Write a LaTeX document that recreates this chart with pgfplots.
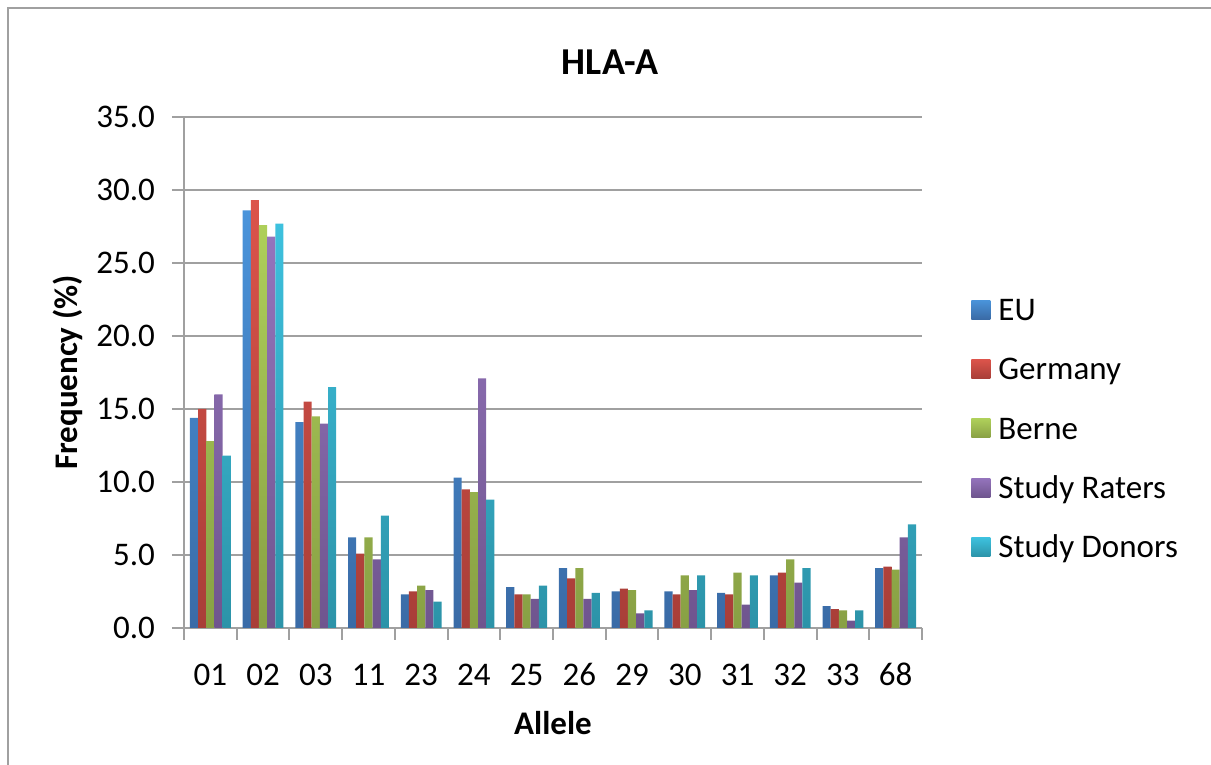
\documentclass[border=0pt]{standalone}
\usepackage{pgfplots}
\pgfplotsset{compat=1.18}
\usepackage{fontspec}
\setmainfont{Carlito}
\definecolor{euT}{HTML}{4A94DB}\definecolor{euB}{HTML}{3A6BA6}
\definecolor{deT}{HTML}{DC544B}\definecolor{deB}{HTML}{A83E38}
\definecolor{beT}{HTML}{AECF5A}\definecolor{beB}{HTML}{88A044}
\definecolor{raT}{HTML}{9474BC}\definecolor{raB}{HTML}{6F558E}
\definecolor{doT}{HTML}{3DC1DE}\definecolor{doB}{HTML}{2C93A8}
\definecolor{gridg}{HTML}{A0A0A0}
\pgfplotstableread{
x EU Germany Berne Raters Donors
0 14.4 15.0 12.8 16.0 11.8
1 28.6 29.3 27.6 26.8 27.7
2 14.1 15.5 14.5 14.0 16.5
3 6.2 5.1 6.2 4.7 7.7
4 2.3 2.5 2.9 2.6 1.8
5 10.3 9.5 9.3 17.1 8.8
6 2.8 2.3 2.3 2.0 2.9
7 4.1 3.4 4.1 2.0 2.4
8 2.5 2.7 2.6 1.0 1.2
9 2.5 2.3 3.6 2.6 3.6
10 2.4 2.3 3.8 1.6 3.6
11 3.6 3.8 4.7 3.1 4.1
12 1.5 1.3 1.2 0.5 1.2
13 4.1 4.2 4.0 6.2 7.1
}\datatable
\pgfplotsset{
  sq/.style={legend image code/.code={\path[##1,draw=none] (0pt,-3.4pt) rectangle (9.5pt,6.1pt);\path (0pt,0pt) -- (11.5pt,0pt);}},
}
\begin{document}
\begin{tikzpicture}
\useasboundingbox (0,0) rectangle (605.5pt,382.5pt);
\draw[gridg,line width=1pt] (4pt,0) -- (4pt,378.5pt) -- (605.5pt,378.5pt);
\node[font=\fontsize{19}{22}\selectfont\bfseries] at (305pt,351.5pt) {HLA-A};
\begin{axis}[
  at={(92pt,68.5pt)}, anchor=south west, scale only axis,
  width=369pt, height=255.5pt,
  xmin=-0.5, xmax=13.5, ymin=0, ymax=35,
  ybar=0pt, bar width=0.155,
  axis x line*=bottom, axis y line*=left,
  axis line style={gridg,line width=1pt,-},
  ytick={0,5,...,35},
  ymajorgrids, grid style={gridg,line width=1pt},
  yticklabel style={xshift=-5pt,/pgf/number format/.cd,fixed,fixed zerofill,precision=1,assume math mode=true},
  xticklabel style={yshift=-7pt, text height=12pt, text depth=0pt},
  ytick style={gridg,line width=1pt},
  tick align=outside, major tick length=6pt,
  xtick={0,...,13},
  xticklabels={01,02,03,11,23,24,25,26,29,30,31,32,33,68},
  xtick style={draw=none},
  extra x ticks={-0.5,0.5,...,13.5},
  extra x tick labels={},
  extra x tick style={xtick style={draw=gridg,line width=1pt}, xmajorgrids=false},
  tick label style={font=\fontsize{16.5}{19}\selectfont},
  xlabel={\bfseries Allele}, ylabel={\bfseries Frequency (\%)},
  xlabel shift=-5.5pt, ylabel shift=0pt,
  label style={font=\fontsize{16.5}{19}\selectfont},
  legend cell align=left,
  legend style={draw=none, fill=none, at={(1,0.3855)}, anchor=west, xshift=24.5pt, inner sep=0pt,
    font=\fontsize{16.5}{19}\selectfont, row sep=9.7pt,
    nodes={text height=12pt, text depth=4pt}},
]
\addplot[sq, draw=none, top color=euT, bottom color=euB] table[x=x,y=EU]{\datatable};
\addplot[sq, draw=none, top color=deT, bottom color=deB] table[x=x,y=Germany]{\datatable};
\addplot[sq, draw=none, top color=beT, bottom color=beB] table[x=x,y=Berne]{\datatable};
\addplot[sq, draw=none, top color=raT, bottom color=raB] table[x=x,y=Raters]{\datatable};
\addplot[sq, draw=none, top color=doT, bottom color=doB] table[x=x,y=Donors]{\datatable};
\legend{EU,Germany,Berne,Study Raters,Study Donors}
\end{axis}
\end{tikzpicture}
\end{document}
